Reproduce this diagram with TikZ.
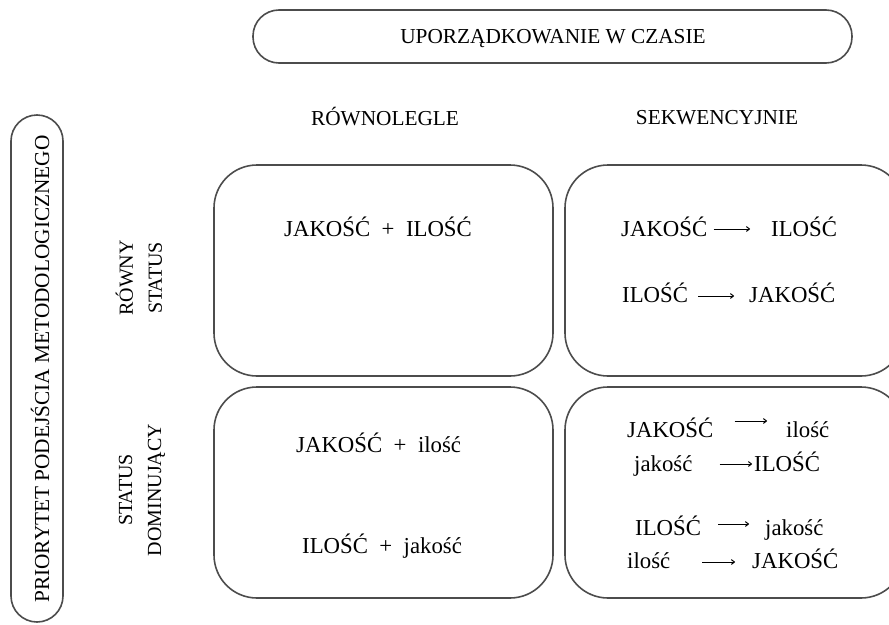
\documentclass[tikz,border=0pt]{standalone}
\usepackage{fontspec}
\setmainfont{Liberation Serif}
\usetikzlibrary{arrows.meta}
\tikzset{
  frame/.style={draw=black!70, line width=1.6pt},
  word/.style={inner sep=0pt, anchor=base west, font=\fontsize{22.8}{26}\selectfont},
  head/.style={inner sep=0pt, font=\fontsize{21.3}{24}\selectfont},
  side/.style={inner sep=0pt, font=\fontsize{20}{29}\selectfont, align=center, rotate=90},
  arr/.style={line width=1pt, -{To[length=4pt,width=5.5pt]}},
}
\begin{document}
\begin{tikzpicture}[x=1pt, y=-1pt]
\useasboundingbox (0,0) rectangle (889,624);

% axis labels
\draw[frame, rounded corners=26pt] (253,10) rectangle (852,63);
\node[head] (time) at (553,39) {UPORZĄDKOWANIE W CZASIE};
\draw[frame, rounded corners=26pt] (11,115) rectangle (63,622);
\node[head, rotate=90] (prio) at (40,369) {PRIORYTET PODEJŚCIA METODOLOGICZNEGO};

% column and row headers
\node[head] (par) at (385,117) {RÓWNOLEGLE};
\node[head] (seq) at (717,118) {SEKWENCYJNIE};
\node[side] (eq) at (139,278) {RÓWNY\\STATUS};
\node[side] (dom) at (142,490) {STATUS\\DOMINUJĄCY};

% the four cells
\draw[frame, rounded corners=43pt] (214,165) rectangle (553,376);
\draw[frame, rounded corners=43pt] (565,165) rectangle (904,376);
\draw[frame, rounded corners=43pt] (214,387) rectangle (553,598);
\draw[frame, rounded corners=43pt] (565,387) rectangle (904,598);

% equal status, parallel
\node[word] (a1) at (284,236) {JAKOŚĆ\ \ +\ \ ILOŚĆ};

% equal status, sequential
\node[word] (b1) at (621,236) {JAKOŚĆ};
\node[word] (b2) at (771,236) {ILOŚĆ};
\node[word] (b3) at (622,302) {ILOŚĆ};
\node[word] (b4) at (749,302) {JAKOŚĆ};
\draw[arr] ([xshift=6pt,yshift=7pt]b1.base east) -- ([xshift=-21pt,yshift=7pt]b2.base west);
\draw[arr] ([xshift=10pt,yshift=6pt]b3.base east) -- ([xshift=-15pt,yshift=6pt]b4.base west);

% dominant status, parallel
\node[word] (c1) at (296,452) {JAKOŚĆ\ \ +\ \ ilość};
\node[word] (c2) at (302,553) {ILOŚĆ\ \ +\ \ jakość};

% dominant status, sequential
\node[word] (d1) at (627,437) {JAKOŚĆ};
\node[word] (d2) at (786,437) {ilość};
\node[word] (d3) at (634,471) {jakość};
\node[word] (d4) at (754,471) {ILOŚĆ};
\node[word] (d5) at (635,535) {ILOŚĆ};
\node[word] (d6) at (765,535) {jakość};
\node[word] (d7) at (627,568) {ilość};
\node[word] (d8) at (752,568) {JAKOŚĆ};
\draw[arr] ([xshift=21pt,yshift=16pt]d1.base east) -- ([xshift=-19pt,yshift=16pt]d2.base west);
\draw[arr] ([xshift=27pt,yshift=7pt]d3.base east) -- ([xshift=-2pt,yshift=7pt]d4.base west);
\draw[arr] ([xshift=17pt,yshift=11pt]d5.base east) -- ([xshift=-16pt,yshift=11pt]d6.base west);
\draw[arr] ([xshift=32pt,yshift=6pt]d7.base east) -- ([xshift=-17pt,yshift=6pt]d8.base west);
\end{tikzpicture}
\end{document}
